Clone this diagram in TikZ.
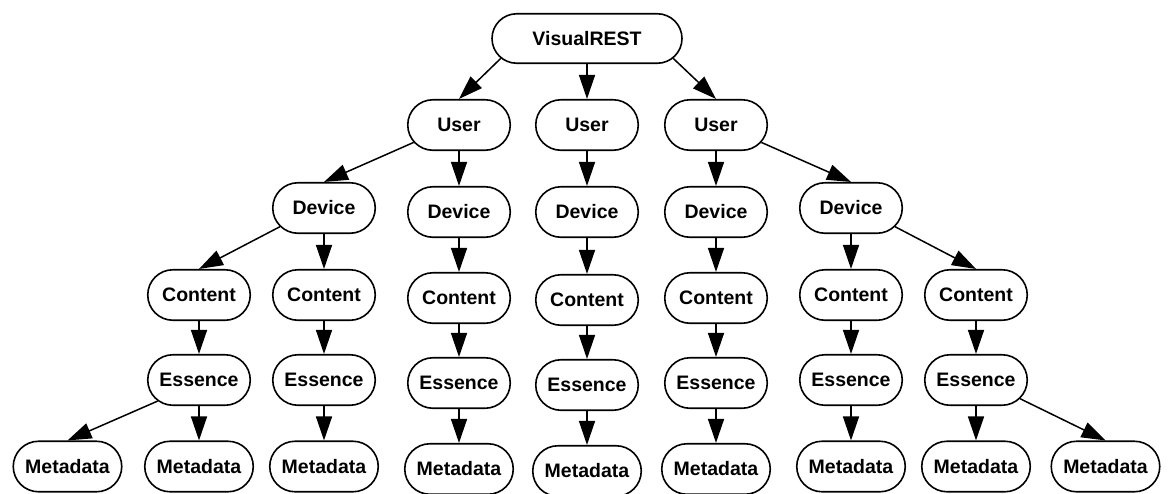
\documentclass[tikz,border=0pt]{standalone}
\usepackage{fontspec}
\setmainfont{Liberation Sans}
\usetikzlibrary{shapes.misc,arrows.meta}

\tikzset{
  box/.style={rounded rectangle, draw=black, line width=1.6pt, fill=white,
    minimum width=102.5pt, minimum height=50.5pt, inner sep=0pt,
    font=\fontsize{19.5}{22}\selectfont\bfseries},
  rootbox/.style={box, minimum width=190pt, minimum height=49.5pt},
  metabox/.style={box, minimum width=108.5pt},
  link/.style={line width=1.5pt, -{Triangle[length=24pt,width=16pt]}},
}

\begin{document}
\begin{tikzpicture}[x=1pt,y=-1pt]
\useasboundingbox (0,0) rectangle (1170,493);

% root and users
\node[rootbox] (root) at (587,38.5) {VisualREST};
\node[box] (uL) at (459,125) {User};
\node[box] (uM) at (587,125) {User};
\node[box] (uR) at (716,125) {User};

% devices
\node[box] (dL1) at (324,208) {Device};
\node[box] (dL2) at (459,212) {Device};
\node[box] (dM)  at (587,212) {Device};
\node[box] (dR1) at (716,212) {Device};
\node[box] (dR2) at (851,208) {Device};

% contents
\node[box] (cL1) at (199,295) {Content};
\node[box] (cL2) at (324,295) {Content};
\node[box] (cL3) at (459,298) {Content};
\node[box] (cM)  at (587,300) {Content};
\node[box] (cR3) at (716,298) {Content};
\node[box] (cR1) at (851,295) {Content};
\node[box] (cR2) at (976,295) {Content};

% essences
\node[box] (eL1) at (199,380) {Essence};
\node[box] (eL2) at (324,380) {Essence};
\node[box] (eL3) at (459,383) {Essence};
\node[box] (eM)  at (587,385) {Essence};
\node[box] (eR3) at (716,383) {Essence};
\node[box] (eR1) at (851,380) {Essence};
\node[box] (eR2) at (976,380) {Essence};

% metadata
\node[metabox] (m1) at (67.5,466.5) {Metadata};
\node[metabox] (m2) at (199,466.5) {Metadata};
\node[metabox] (m3) at (324,466.5) {Metadata};
\node[metabox] (m4) at (459,469) {Metadata};
\node[metabox] (m5) at (587,471) {Metadata};
\node[metabox] (m6) at (716,469) {Metadata};
\node[metabox] (m7) at (851,466.5) {Metadata};
\node[metabox] (m8) at (976,466.5) {Metadata};
\node[metabox] (m9) at (1105.5,466.5) {Metadata};

% slanted links
\draw[link] (root.193) -- (uL.north);
\draw[link] (root.347) -- (uR.north);
\draw[link] (uL.201) -- (dL1.north);
\draw[link] (uR.339) -- (dR2.north);
\draw[link] (dL1.203) -- (cL1.north);
\draw[link] (dR2.337) -- (cR2.north);
\draw[link] (eL1.207) -- (m1.north);
\draw[link] (eR2.337) -- (m9.north);

% straight links
\draw[link] (root.south) -- (uM.north);
\draw[link] (uL.south) -- (dL2.north);
\draw[link] (uM.south) -- (dM.north);
\draw[link] (uR.south) -- (dR1.north);
\draw[link] (dL1.south) -- (cL2.north);
\draw[link] (dL2.south) -- (cL3.north);
\draw[link] (dM.south) -- (cM.north);
\draw[link] (dR1.south) -- (cR3.north);
\draw[link] (dR2.south) -- (cR1.north);
\draw[link] (cL1.south) -- (eL1.north);
\draw[link] (cL2.south) -- (eL2.north);
\draw[link] (cL3.south) -- (eL3.north);
\draw[link] (cM.south) -- (eM.north);
\draw[link] (cR3.south) -- (eR3.north);
\draw[link] (cR1.south) -- (eR1.north);
\draw[link] (cR2.south) -- (eR2.north);
\draw[link] (eL1.south) -- (m2.north);
\draw[link] (eL2.south) -- (m3.north);
\draw[link] (eL3.south) -- (m4.north);
\draw[link] (eM.south) -- (m5.north);
\draw[link] (eR3.south) -- (m6.north);
\draw[link] (eR1.south) -- (m7.north);
\draw[link] (eR2.south) -- (m8.north);
\end{tikzpicture}
\end{document}
